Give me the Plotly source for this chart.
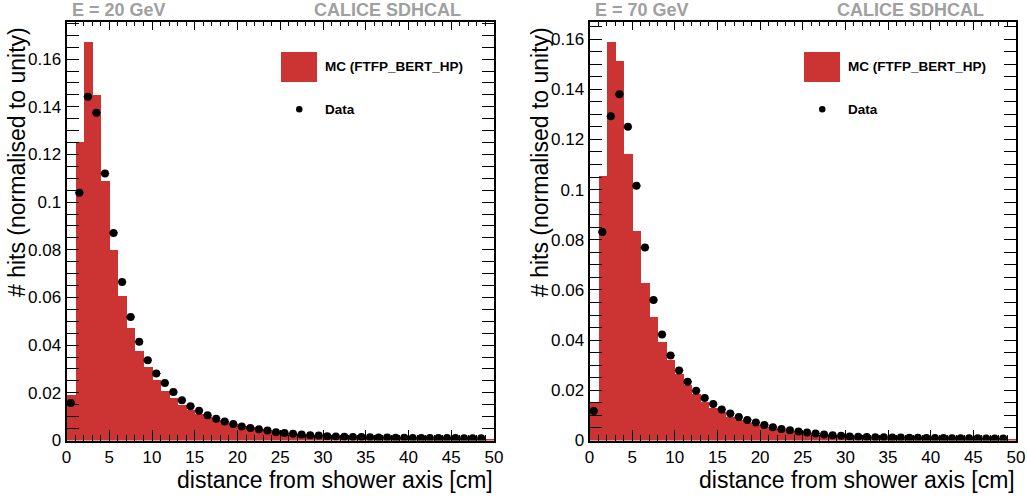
import plotly.graph_objects as go

W, H = 1027, 497

# ---------------- data ----------------
bin_edges_lo = list(range(0, 50))          # 1 cm bins from 0 to 50 cm
x_ticks = [0, 5, 10, 15, 20, 25, 30, 35, 40, 45, 50]
y_tick_vals = [0, 0.02, 0.04, 0.06, 0.08, 0.10, 0.12, 0.14, 0.16]
y_tick_text = ["0", "0.02", "0.04", "0.06", "0.08", "0.1", "0.12", "0.14", "0.16"]

mc_20 = [0.0192, 0.1253, 0.1673, 0.1449, 0.1088, 0.0801, 0.0606, 0.0473, 0.0378, 0.0308,
         0.0255, 0.0210, 0.0178, 0.0151, 0.0129, 0.0112, 0.0098, 0.0087, 0.0077, 0.0069,
         0.0062, 0.0056, 0.0048, 0.0042, 0.0037, 0.0033, 0.0029, 0.0026, 0.0023, 0.0021,
         0.0019, 0.0017, 0.0016, 0.0015, 0.0014, 0.0013, 0.0012, 0.0011, 0.0011, 0.0010,
         0.0010, 0.0009, 0.0009, 0.0008, 0.0008, 0.0008, 0.0007, 0.0007, 0.0007, 0.0006]
data_20 = [0.0157, 0.1039, 0.1442, 0.1375, 0.1120, 0.0871, 0.0665, 0.0518, 0.0414, 0.0337,
           0.0281, 0.0241, 0.0203, 0.0169, 0.0144, 0.0125, 0.0106, 0.0091, 0.0080, 0.0069,
           0.0059, 0.0052, 0.0047, 0.0042, 0.0035, 0.0031, 0.0028, 0.0025, 0.0022, 0.0021,
           0.0018, 0.0017, 0.0016, 0.0015, 0.0015, 0.0014, 0.0013, 0.0013, 0.0012, 0.0012,
           0.0011, 0.0011, 0.0011, 0.0010, 0.0010, 0.0010, 0.0009, 0.0009, 0.0009]

mc_70 = [0.0155, 0.1056, 0.1590, 0.1513, 0.1143, 0.0835, 0.0629, 0.0494, 0.0394, 0.0321,
         0.0266, 0.0222, 0.0185, 0.0155, 0.0131, 0.0113, 0.0096, 0.0082, 0.0072, 0.0062,
         0.0054, 0.0048, 0.0042, 0.0037, 0.0032, 0.0029, 0.0025, 0.0022, 0.0020, 0.0018,
         0.0016, 0.0015, 0.0014, 0.0013, 0.0012, 0.0011, 0.0011, 0.0010, 0.0010, 0.0009,
         0.0009, 0.0008, 0.0008, 0.0008, 0.0007, 0.0007, 0.0007, 0.0006, 0.0006, 0.0006]
data_70 = [0.0118, 0.0831, 0.1292, 0.1380, 0.1250, 0.1015, 0.0769, 0.0560, 0.0422, 0.0339,
           0.0279, 0.0234, 0.0198, 0.0169, 0.0145, 0.0124, 0.0108, 0.0094, 0.0082, 0.0072,
           0.0062, 0.0053, 0.0046, 0.0041, 0.0036, 0.0032, 0.0028, 0.0024, 0.0021, 0.0019,
           0.0016, 0.0015, 0.0014, 0.0013, 0.0013, 0.0012, 0.0012, 0.0011, 0.0011, 0.0010,
           0.0010, 0.0010, 0.0009, 0.0009, 0.0009, 0.0009, 0.0008, 0.0008, 0.0008]

panels = [
    dict(label="E = 20 GeV", mc=mc_20, data=data_20, ymax=0.1757),
    dict(label="E = 70 GeV", mc=mc_70, data=data_70, ymax=0.1669),
]
mc_name = "MC (FTFP_BERT_HP)"
data_name = "Data"
x_title = "distance from shower axis [cm]"
y_title = "# hits (normalised to unity)"

# ---------------- style ----------------
RED = "#cc3333"
GRAY = "#a0a0a0"
FONT = "Liberation Sans, Arial, Helvetica, sans-serif"

def px(x):
    return x / W

def py(y):
    return 1 - y / H

x_dom = [[px(66.5), px(494)], [px(589.5), px(1016)]]
y_dom = [py(440.5), py(21.7)]

fig = go.Figure()
annotations = []
shapes = []

for i, p in enumerate(panels):
    n = i + 1
    xa = "x" if n == 1 else f"x{n}"
    ya = "y" if n == 1 else f"y{n}"
    centers = [lo + 0.5 for lo in bin_edges_lo]
    fig.add_trace(go.Bar(
        x=centers, y=p["mc"], width=1, xaxis=xa, yaxis=ya,
        marker=dict(color=RED, line=dict(width=0)), showlegend=False, name=mc_name,
    ))
    dcent = [lo + 0.5 for lo in bin_edges_lo[:len(p["data"])]]
    fig.add_trace(go.Scatter(
        x=dcent, y=p["data"], mode="markers", xaxis=xa, yaxis=ya,
        marker=dict(color="black", size=8),
        error_x=dict(type="constant", value=0.5, color="black", thickness=1, width=0),
        showlegend=False, name=data_name,
    ))

    xkey = "xaxis" if n == 1 else f"xaxis{n}"
    ykey = "yaxis" if n == 1 else f"yaxis{n}"
    fig.layout[xkey] = dict(
        domain=x_dom[i], anchor=ya, range=[0, 50], tickvals=x_ticks,
        ticks="inside", ticklen=11, tickwidth=1, tickcolor="black",
        minor=dict(ticks="inside", dtick=1, ticklen=6, tickwidth=1, tickcolor="black"),
        showline=True, linecolor="black", linewidth=2, mirror=True,
        showgrid=False, zeroline=False, automargin=False,
        tickfont=dict(family=FONT, size=17, color="black"),
    )
    fig.layout[ykey] = dict(
        domain=y_dom, anchor=xa, range=[0, p["ymax"]],
        tickvals=y_tick_vals, ticktext=y_tick_text,
        ticks="inside", ticklen=12, tickwidth=1, tickcolor="black",
        minor=dict(ticks="inside", dtick=0.005, ticklen=6, tickwidth=1, tickcolor="black"),
        showline=True, linecolor="black", linewidth=2, mirror="allticks",
        showgrid=False, zeroline=False, automargin=False,
        tickfont=dict(family=FONT, size=17, color="black"),
    )
    # top (mirror) x ticks, shorter as in the reference
    tkey = f"xaxis{n + 2}"
    fig.layout[tkey] = dict(
        overlaying=xa, anchor=ya, side="top", range=[0, 50], tickvals=x_ticks,
        ticks="inside", ticklen=8, tickwidth=1, tickcolor="black",
        minor=dict(ticks="inside", dtick=1, ticklen=4, tickwidth=1, tickcolor="black"),
        showticklabels=False, showline=False, showgrid=False, zeroline=False,
        automargin=False,
    )
    fig.add_trace(go.Scatter(x=[None], y=[None], xaxis=f"x{n + 2}", yaxis=ya,
                             showlegend=False, hoverinfo="skip"))

    x0 = x_dom[i][0] * W  # left pixel of panel
    x1 = x_dom[i][1] * W
    # header labels
    annotations.append(dict(text=f"<b>{p['label']}</b>", x=px(x0 + 3), y=py(10),
                            xref="paper", yref="paper", xanchor="left", yanchor="middle",
                            showarrow=False, font=dict(family=FONT, size=18, color=GRAY)))
    annotations.append(dict(text="<b>CALICE SDHCAL</b>", x=px(x0 + 245), y=py(10),
                            xref="paper", yref="paper", xanchor="left", yanchor="middle",
                            showarrow=False, font=dict(family=FONT, size=18, color=GRAY)))
    # axis titles
    annotations.append(dict(text=x_title, x=px(x1 + 1), y=py(480),
                            xref="paper", yref="paper", xanchor="right", yanchor="middle",
                            showarrow=False, font=dict(family=FONT, size=23, color="black")))
    annotations.append(dict(text=y_title, x=px(x0 - 49.5), y=py(25),
                            xref="paper", yref="paper", xanchor="center", yanchor="top",
                            textangle=-90, showarrow=False,
                            font=dict(family=FONT, size=23, color="black")))
    # legend
    lx = x0 + 214.5
    shapes.append(dict(type="rect", xref="paper", yref="paper",
                       x0=px(lx), x1=px(lx + 36), y0=py(82), y1=py(52),
                       fillcolor=RED, line=dict(width=0)))
    shapes.append(dict(type="circle", xref="paper", yref="paper",
                       x0=px(lx + 15), x1=px(lx + 21.5), y0=py(112.5), y1=py(106),
                       fillcolor="black", line=dict(width=0)))
    annotations.append(dict(text=f"<b>{mc_name}</b>", x=px(lx + 42), y=py(66.5),
                            xref="paper", yref="paper", xanchor="left", yanchor="middle",
                            showarrow=False, font=dict(family=FONT, size=13.5, color="black")))
    annotations.append(dict(text=f"<b>{data_name}</b>", x=px(lx + 42), y=py(109.5),
                            xref="paper", yref="paper", xanchor="left", yanchor="middle",
                            showarrow=False, font=dict(family=FONT, size=13.5, color="black")))

fig.update_layout(
    width=W, height=H,
    margin=dict(l=0, r=0, t=0, b=0),
    paper_bgcolor="white", plot_bgcolor="white",
    bargap=0, barmode="overlay",
    showlegend=False,
    annotations=annotations, shapes=shapes,
    font=dict(family=FONT),
)

fig.write_html(
    "out.html",
    config={"displayModeBar": False},
    post_script="document.body.style.margin='0px';document.body.style.overflow='hidden';",
)
